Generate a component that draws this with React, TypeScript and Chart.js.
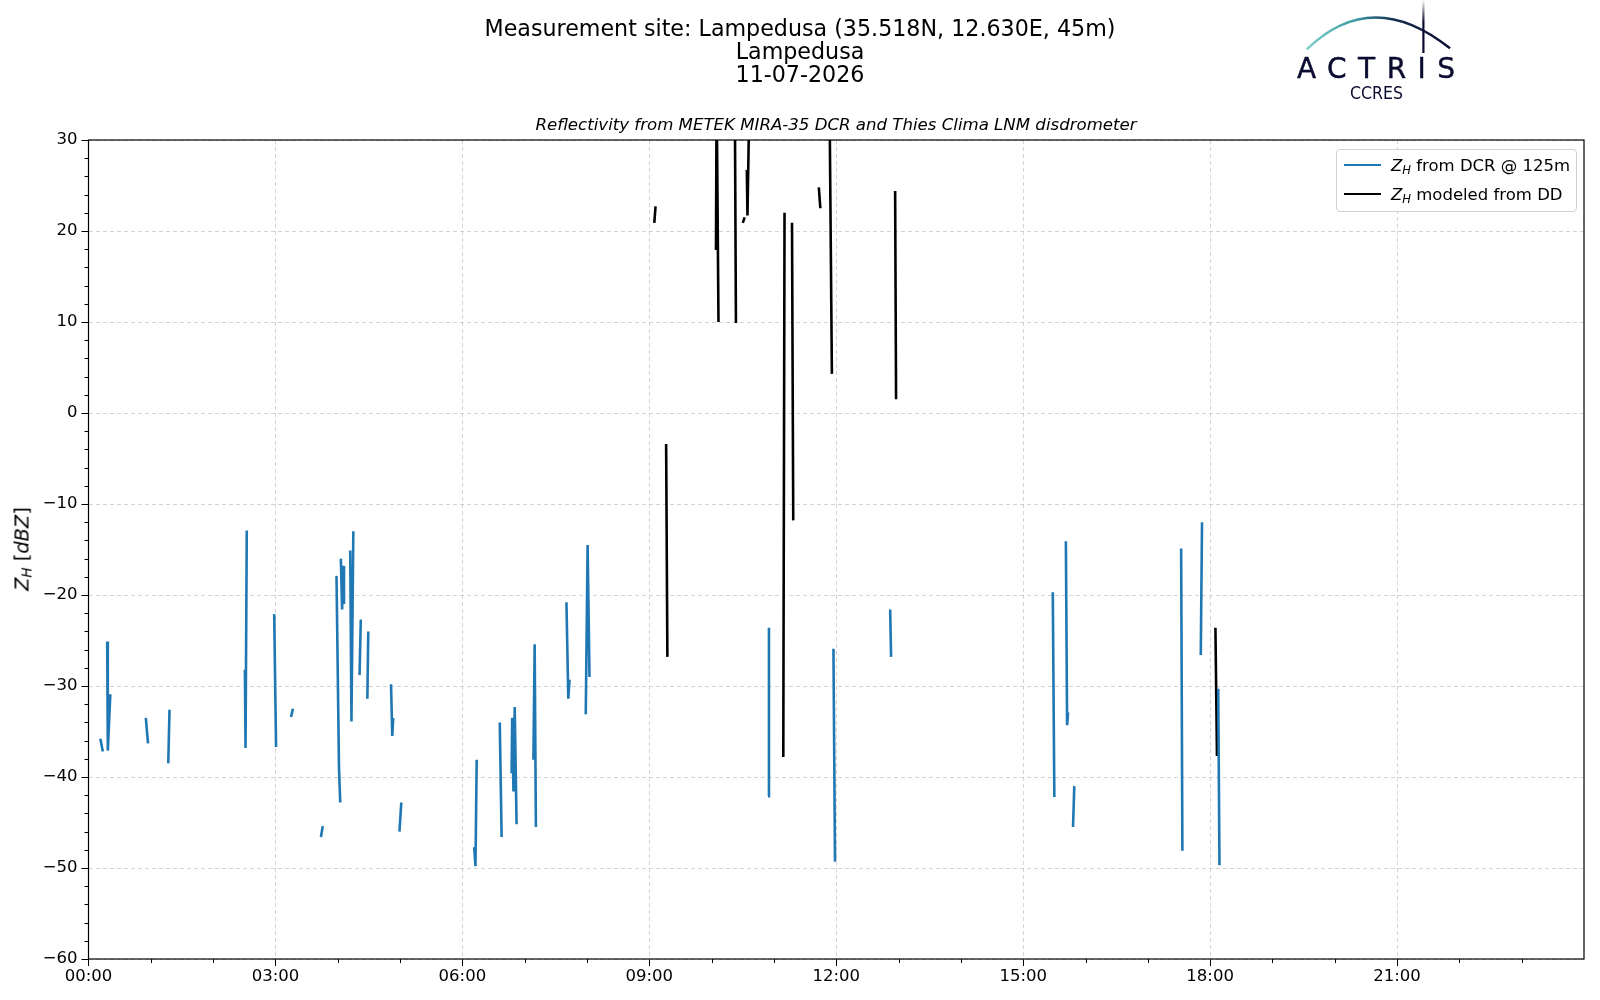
import Chart from "chart.js/auto"
import { useEffect, useRef } from "react"

// hours since 00:00 UTC, null breaks the line
const dcrTime = [
	0.19, 0.23, null,
	0.30, 0.31, 0.35, null,
	0.92, 0.955, null,
	1.28, 1.30, null,
	2.51, 2.52, 2.54, null,
	2.98, 3.01, null,
	3.25, 3.28, null,
	3.73, 3.76, null,
	3.98, 4.02, 4.04, null,
	4.05, 4.07, 4.09, 4.10, null,
	4.20, 4.22, 4.25, null,
	4.35, 4.37, null,
	4.475, 4.49, null,
	4.855, 4.875, 4.89, null,
	4.99, 5.02, null,
	6.19, 6.21, 6.23, null,
	6.60, 6.63, null,
	6.79, 6.80, 6.82, 6.84, 6.87, null,
	7.14, 7.16, 7.18, null,
	7.67, 7.70, 7.72, null,
	7.98, 8.01, 8.04, null,
	10.905, 10.92, null,
	11.955, 11.98, null,
	12.865, 12.88, null,
	15.475, 15.50, null,
	15.685, 15.705, 15.72, null,
	15.80, 15.82, null,
	17.535, 17.555, null,
	17.85, 17.87, null,
	18.13, 18.15,
]
const dcrZh = [
	-35.8, -37.2, null,
	-25.1, -37.1, -30.9, null,
	-33.5, -36.3, null,
	-38.5, -32.6, null,
	-28.2, -36.8, -12.9, null,
	-22.1, -36.7, null,
	-33.4, -32.5, null,
	-46.6, -45.4, null,
	-17.9, -39.0, -42.8, null,
	-16.0, -21.6, -16.8, -21.0, null,
	-15.1, -33.9, -13.0, null,
	-28.8, -22.7, null,
	-31.4, -24.0, null,
	-29.8, -35.5, -33.5, null,
	-46.0, -42.8, null,
	-47.7, -49.8, -38.1, null,
	-34.0, -46.6, null,
	-39.6, -33.5, -41.6, -32.3, -45.2, null,
	-38.1, -25.4, -45.5, null,
	-20.8, -31.4, -29.3, null,
	-33.1, -14.5, -29.0, null,
	-42.1, -23.6, null,
	-25.9, -49.3, null,
	-21.6, -26.8, null,
	-19.7, -42.2, null,
	-14.1, -34.3, -32.9, null,
	-45.5, -41.0, null,
	-14.9, -48.1, null,
	-26.6, -12.0, null,
	-30.3, -49.7,
]

const ddTime = [
	9.08, 9.10, null,
	9.27, 9.29, null,
	10.07, 10.08, 10.11, null,
	10.37, 10.39, null,
	10.50, 10.53, null,
	10.565, 10.575, 10.61, null,
	11.15, 11.17, null,
	11.29, 11.31, null,
	11.72, 11.745, null,
	11.89, 11.93, null,
	12.945, 12.96, null,
	18.085, 18.11,
]
const ddZh = [
	20.9, 22.7, null,
	-3.4, -26.8, null,
	17.9, 36, 10.0, null,
	38, 9.9, null,
	20.9, 21.5, null,
	26.7, 21.7, 36, null,
	-37.8, 22.0, null,
	20.9, -11.8, null,
	24.8, 22.5, null,
	36, 4.3, null,
	24.4, 1.5, null,
	-23.6, -37.7,
]

const xTicks = [0, 3, 6, 9, 12, 15, 18, 21]
const yTicks = [-60, -50, -40, -30, -20, -10, 0, 10, 20, 30]

const FONT = "'DejaVu Sans', sans-serif"

// a gap keeps the previous time so the x values stay sorted
function toPoints(t: (number | null)[], v: (number | null)[]) {
	let last = 0
	return t.map((x, i) => {
		if (x === null) return { x: last, y: null }
		last = x
		return { x, y: v[i] }
	})
}

const frame = {
	id: "frame",
	afterDraw(chart: any) {
		const { ctx, chartArea: a, scales } = chart
		ctx.save()
		ctx.strokeStyle = "#000"
		ctx.lineWidth = 1
		// minor ticks
		for (let h = 1; h < 24; h++) {
			if (h % 3 === 0) continue
			const x = Math.round(scales.x.getPixelForValue(h)) + 0.5
			ctx.beginPath()
			ctx.moveTo(x, a.bottom)
			ctx.lineTo(x, a.bottom + 4)
			ctx.stroke()
		}
		for (let v = -58; v < 30; v += 2) {
			if (v % 10 === 0) continue
			const y = Math.round(scales.y.getPixelForValue(v)) + 0.5
			ctx.beginPath()
			ctx.moveTo(a.left, y)
			ctx.lineTo(a.left - 4, y)
			ctx.stroke()
		}
		ctx.lineWidth = 1.2
		ctx.strokeRect(a.left, a.top, a.right - a.left, a.bottom - a.top)
		ctx.restore()
	},
}

function ZhChart() {
	const canvasRef = useRef<HTMLCanvasElement>(null)

	useEffect(() => {
		if (!canvasRef.current) return
		const ctx = canvasRef.current.getContext("2d")
		if (!ctx) return

		const grid = {
			color: "rgba(176,176,176,0.55)",
			lineWidth: 1,
			tickColor: "#000",
			tickLength: 7,
			tickWidth: 1,
			tickBorderDash: [],
		}

		const chart = new Chart(ctx, {
			type: "line",
			data: {
				datasets: [
					{
						label: "ZH from DCR @ 125m",
						data: toPoints(dcrTime, dcrZh),
						borderColor: "#1f77b4",
						borderWidth: 2.6,
						pointRadius: 0,
						spanGaps: false,
					},
					{
						label: "ZH modeled from DD",
						data: toPoints(ddTime, ddZh),
						borderColor: "#000000",
						borderWidth: 2.6,
						pointRadius: 0,
						spanGaps: false,
					},
				],
			},
			options: {
				animation: false,
				responsive: false,
				parsing: false,
				layout: { padding: { left: 0, right: 16, top: 140, bottom: 0 } },
				plugins: { legend: { display: false }, tooltip: { enabled: false } },
				scales: {
					x: {
						type: "linear",
						min: 0,
						max: 24,
						grid,
						border: { display: false, dash: [4, 3] },
						afterBuildTicks: (s: any) => {
							s.ticks = xTicks.map((value) => ({ value }))
						},
						afterFit: (s: any) => {
							s.height = 41
						},
						ticks: {
							color: "#000",
							padding: 1,
							maxRotation: 0,
							font: { family: FONT, size: 16.5 },
							callback: (v: any) => String(v).padStart(2, "0") + ":00",
						},
					},
					y: {
						min: -60,
						max: 30,
						grid,
						border: { display: false, dash: [4, 3] },
						afterBuildTicks: (s: any) => {
							s.ticks = yTicks.map((value) => ({ value }))
						},
						afterFit: (s: any) => {
							s.width = 88.5
						},
						ticks: {
							color: "#000",
							padding: 4,
							font: { family: FONT, size: 16.5 },
							callback: (v: any) => String(v).replace("-", "\u2212"),
						},
					},
				},
			},
			plugins: [frame],
		})

		return () => {
			chart.destroy()
		}
	}, [])

	return <canvas ref={canvasRef} width={1600} height={1000} style={{ position: "absolute", left: 0, top: 0 }} />
}

function Zh() {
	return (
		<span>
			<i>Z</i>
			<sub style={{ fontSize: "0.7em", fontStyle: "italic", verticalAlign: "-0.25em", lineHeight: 0 }}>H</sub>
		</span>
	)
}

function Logo() {
	return (
		<svg width={200} height={110} viewBox="1280 0 200 110" style={{ position: "absolute", left: 1280, top: 0 }}>
			<defs>
				<linearGradient id="arcg" x1="1306" y1="0" x2="1450" y2="0" gradientUnits="userSpaceOnUse">
					<stop offset="0" stopColor="#7fd0c8" />
					<stop offset="0.35" stopColor="#3a9aa6" />
					<stop offset="0.6" stopColor="#14304f" />
					<stop offset="1" stopColor="#0b0b30" />
				</linearGradient>
				<linearGradient id="barg" x1="0" y1="0" x2="0" y2="55" gradientUnits="userSpaceOnUse">
					<stop offset="0" stopColor="#ffffff" />
					<stop offset="0.4" stopColor="#0b0b30" />
					<stop offset="1" stopColor="#0b0b30" />
				</linearGradient>
			</defs>
			<path d="M1306.7 49.3 Q1372 -14 1450 48.3" fill="none" stroke="url(#arcg)" strokeWidth={2.4} />
			<rect x={1422.3} y={0} width={2.2} height={53} fill="url(#barg)" />
			<text x={1297} y={78} fontFamily={FONT} fontSize={28} fill="#0b0b30" stroke="#0b0b30" strokeWidth={0.4} textLength={158} lengthAdjust="spacing">
				ACTRIS
			</text>
			<text x={1350} y={99} fontFamily={FONT} fontSize={17} fill="#0b0b30" textLength={53} lengthAdjust="spacingAndGlyphs">
				CCRES
			</text>
		</svg>
	)
}

export default function App() {
	useEffect(() => {
		document.body.style.margin = "0"
	}, [])

	return (
		<div style={{ position: "relative", width: 1600, height: 1000, background: "#fff", fontFamily: FONT, color: "#000" }}>
			<ZhChart />
			<div style={{ position: "absolute", left: 0, top: 17, width: 1600, textAlign: "center", fontSize: 22.2, lineHeight: "23px" }}>
				<div>Measurement site: Lampedusa (35.518N, 12.630E, 45m)</div>
				<div>Lampedusa</div>
				<div>11-07-2026</div>
			</div>
			<div style={{ position: "absolute", left: 88.5, top: 116, width: 1495, textAlign: "center", fontSize: 16.6, fontStyle: "italic", lineHeight: "18px" }}>
				Reflectivity from METEK MIRA-35 DCR and Thies Clima LNM disdrometer
			</div>
			<div
				style={{
					position: "absolute",
					left: 22,
					top: 549,
					transform: "translate(-50%, -50%) rotate(-90deg)",
					fontSize: 19.4,
					whiteSpace: "nowrap",
				}}
			>
				<Zh /> [<i>dBZ</i>]
			</div>
			<div
				style={{
					position: "absolute",
					left: 1336,
					top: 149,
					width: 241,
					height: 63,
					boxSizing: "border-box",
					border: "1px solid #d0d0d0",
					borderRadius: 4,
					background: "rgba(255,255,255,0.8)",
					fontSize: 16.5,
				}}
			>
				{[
					{ color: "#1f77b4", text: " from DCR @ 125m", y: 15 },
					{ color: "#000", text: " modeled from DD", y: 44 },
				].map((r) => (
					<div key={r.text} style={{ position: "absolute", left: 0, top: r.y - 11, height: 22, display: "flex", alignItems: "center", whiteSpace: "nowrap" }}>
						<span style={{ display: "inline-block", marginLeft: 7, width: 37, height: 2.6, background: r.color }} />
						<span style={{ marginLeft: 10 }}>
							<Zh />
							{r.text}
						</span>
					</div>
				))}
			</div>
			<Logo />
		</div>
	)
}
